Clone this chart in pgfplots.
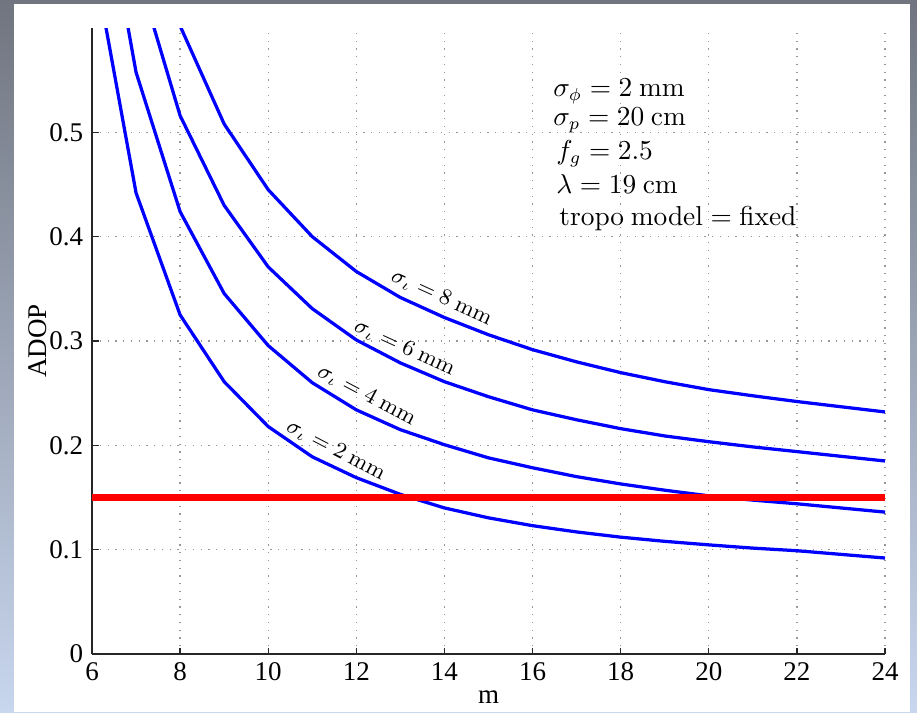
\documentclass[border=0pt]{standalone}
\usepackage[no-math]{fontspec}
\setmainfont{Liberation Serif}
\usepackage{pgfplots}
\pgfplotsset{compat=1.18}
\definecolor{frametop}{RGB}{112,117,127}
\definecolor{framebot}{RGB}{200,214,238}
\definecolor{gridgray}{RGB}{150,150,150}

\begin{document}
\begin{tikzpicture}
\useasboundingbox (0pt,0pt) rectangle (366.8pt,284.8pt);
\shade[top color=frametop,bottom color=framebot] (0pt,0pt) rectangle (366.8pt,284.8pt);
\fill[white] (5.6pt,0pt) rectangle (364pt,283.2pt);
\begin{axis}[
  at={(36.8pt,23.2pt)},anchor=south west,
  scale only axis,width=317.2pt,height=250.4pt,
  xmin=6,xmax=24,ymin=0,ymax=0.6,
  xtick={6,8,...,24},ytick={0,0.1,0.2,0.3,0.4,0.5},
  axis x line*=bottom,axis y line*=left,
  axis line style={-,black!85,line width=0.6pt},
  tick align=inside,major tick length=2.6pt,
  tick style={black!85,line width=0.5pt},
  grid=major,grid style={gridgray,line width=0.5pt,dash pattern=on 0.5pt off 2.6pt},
  tick label style={font=\fontsize{10.8}{12}\selectfont},
  label style={font=\fontsize{10.8}{12}\selectfont},
  /pgf/number format/assume math mode=true,
  xlabel={m},ylabel={ADOP},
  xlabel style={at={(rel axis cs:0.5,-0.0695)},anchor=center},
  ylabel style={at={(rel axis cs:-0.0681,0.5)},anchor=center},
  every axis plot/.append style={line width=1.3pt,line join=round},
]
% sigma_iota = 2 mm
\addplot[blue] coordinates {(6,0.674)(7,0.442)(8,0.325)(9,0.261)(10,0.218)(11,0.189)(12,0.169)(13,0.153)(14,0.140)(15,0.1305)(16,0.123)(17,0.117)(18,0.112)(19,0.108)(20,0.1046)(21,0.1015)(22,0.099)(23,0.0955)(24,0.092)};
% sigma_iota = 4 mm
\addplot[blue] coordinates {(6,0.793)(7,0.5576)(8,0.424)(9,0.3455)(10,0.2956)(11,0.260)(12,0.234)(13,0.215)(14,0.2006)(15,0.188)(16,0.1785)(17,0.170)(18,0.163)(19,0.157)(20,0.1516)(21,0.1475)(22,0.144)(23,0.140)(24,0.136)};
% sigma_iota = 6 mm
\addplot[blue] coordinates {(7,0.658)(8,0.516)(9,0.430)(10,0.371)(11,0.331)(12,0.301)(13,0.279)(14,0.261)(15,0.2466)(16,0.234)(17,0.2245)(18,0.216)(19,0.209)(20,0.2035)(21,0.1985)(22,0.194)(23,0.1895)(24,0.185)};
% sigma_iota = 8 mm
\addplot[blue] coordinates {(7,0.85)(8,0.602)(9,0.508)(10,0.445)(11,0.400)(12,0.3666)(13,0.3417)(14,0.3225)(15,0.306)(16,0.2917)(17,0.280)(18,0.2697)(19,0.261)(20,0.2534)(21,0.2475)(22,0.242)(23,0.237)(24,0.232)};
% threshold
\addplot[red,line width=2.7pt] coordinates {(6,0.15)(24,0.15)};

\begin{scope}[font=\fontsize{9}{11}\selectfont]
\node[rotate=-24.5] at (axis cs:13.94,0.3420) {$\sigma_\iota = 8\ \mathrm{mm}$};
\node[rotate=-24.5] at (axis cs:13.10,0.2935) {$\sigma_\iota = 6\ \mathrm{mm}$};
\node[rotate=-28] at (axis cs:12.24,0.2480) {$\sigma_\iota = 4\ \mathrm{mm}$};
\node[rotate=-27.5] at (axis cs:11.54,0.1955) {$\sigma_\iota = 2\ \mathrm{mm}$};
\end{scope}
\begin{scope}[font=\fontsize{10.6}{13}\selectfont,inner sep=0pt]
\node[anchor=base west] at (axis cs:16.46,0.5345) {$\sigma_\phi = 2\ \mathrm{mm}$};
\node[anchor=base west] at (axis cs:16.46,0.5065) {$\sigma_p = 20\ \mathrm{cm}$};
\node[anchor=base west] at (axis cs:16.53,0.4740) {$f_g = 2.5$};
\node[anchor=base west] at (axis cs:16.53,0.4415) {$\lambda = 19\ \mathrm{cm}$};
\node[anchor=base west] at (axis cs:16.60,0.4110) {$\mathrm{tropo\ model} = \mathrm{fixed}$};
\end{scope}
\end{axis}
\end{tikzpicture}
\end{document}
